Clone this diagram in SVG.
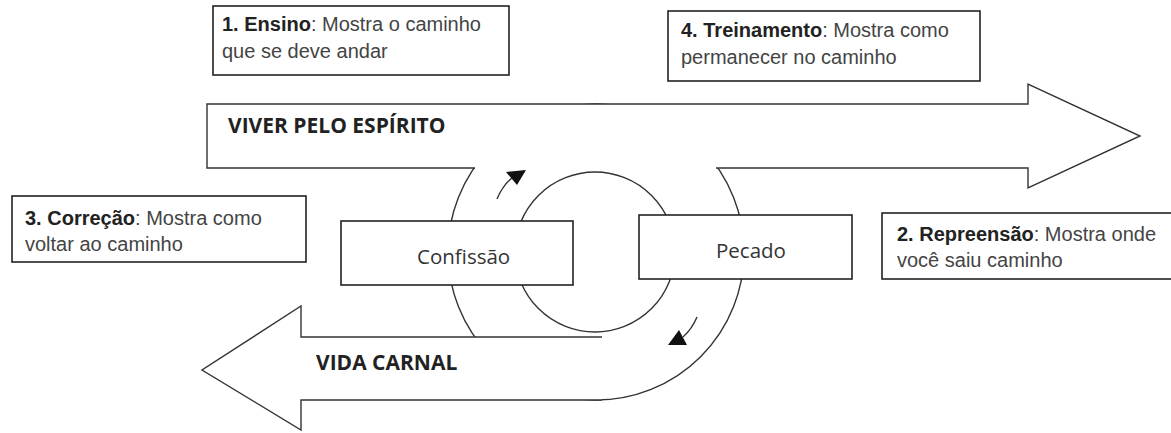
<svg xmlns="http://www.w3.org/2000/svg" width="1171" height="433" viewBox="0 0 1171 433">
<style>
.ln{fill:none;stroke:#333;stroke-width:1.4}
.shape{fill:#fff;stroke:#333;stroke-width:1.4}
.box{fill:#fff;stroke:#222;stroke-width:1.6}
.note{font-family:"Liberation Sans",Arial,sans-serif;font-size:20px;fill:#444}
.note tspan.b{font-weight:bold;fill:#222}
.big{font-family:"Open Sans","Noto Sans",sans-serif;font-size:21px;font-weight:bold;fill:#222}
.lbl{font-family:"Open Sans","Noto Sans",sans-serif;font-size:20.5px;fill:#333}
.head{fill:#111;stroke:none}
</style>
<rect width="1171" height="433" fill="#fff"/>
<g id="connectors">
  <circle class="ln" cx="596" cy="252" r="148"/>
  <circle class="ln" cx="595" cy="252" r="80"/>
  <path class="ln" d="M497,199 Q503,185 512,178"/>
  <polygon class="head" points="506,172 526,170 517,185"/>
  <path class="ln" d="M697,317 Q692,329 683,337"/>
  <polygon class="head" points="668,345 687,345 679,330"/>
</g>
<g id="viver">
  <path class="shape" d="M475,168 L207,168 L207,104 L1028,104 L1028,84 L1140,136 L1028,188 L1028,168 L716,168"/>
  <text class="big" x="228" y="133">VIVER PELO ESPÍRITO</text>
</g>
<g id="carnal">
  <path class="shape" d="M602,337 L301,337 L301,306 L202,370 L301,430 L301,400 L602,400"/>
  <text class="big" x="316" y="370">VIDA CARNAL</text>
</g>
<g id="confissao">
  <rect class="box" x="341" y="221" width="232" height="64"/>
  <text class="lbl" x="417" y="264">Confissão</text>
</g>
<g id="pecado">
  <rect class="box" x="639" y="215" width="213" height="64"/>
  <text class="lbl" x="716" y="258">Pecado</text>
</g>
<g id="ensino">
  <rect class="box" x="213" y="6" width="296" height="69"/>
  <text class="note" x="222" y="31"><tspan class="b">1. Ensino</tspan>: Mostra o caminho</text>
  <text class="note" x="222" y="58">que se deve andar</text>
</g>
<g id="treinamento">
  <rect class="box" x="668" y="11" width="312" height="70"/>
  <text class="note" x="681" y="37"><tspan class="b">4. Treinamento</tspan>: Mostra como</text>
  <text class="note" x="681" y="64">permanecer no caminho</text>
</g>
<g id="correcao">
  <rect class="box" x="12" y="196" width="294" height="66"/>
  <text class="note" x="25" y="225"><tspan class="b">3. Correção</tspan>: Mostra como</text>
  <text class="note" x="25" y="251">voltar ao caminho</text>
</g>
<g id="repreensao">
  <rect class="box" x="882" y="213" width="300" height="66"/>
  <text class="note" x="897" y="241"><tspan class="b">2. Repreensão</tspan>: Mostra onde</text>
  <text class="note" x="897" y="267">você saiu caminho</text>
</g>
</svg>
